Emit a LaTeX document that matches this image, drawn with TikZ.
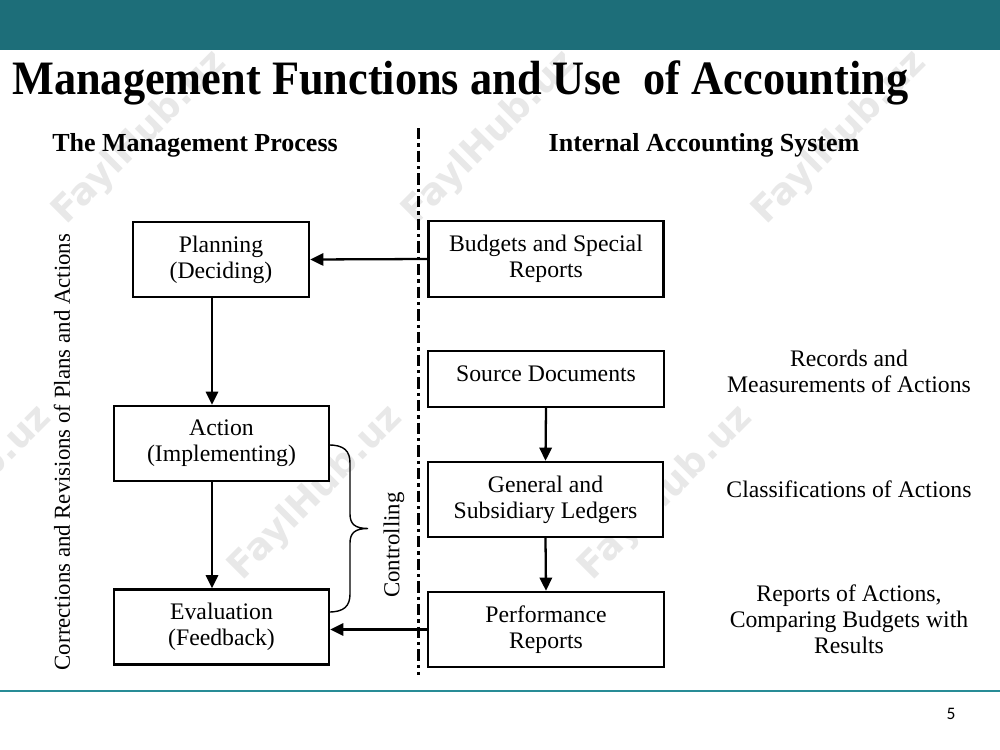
\documentclass[tikz,border=0pt]{standalone}
\usepackage{fontspec}
\setmainfont{Liberation Serif}
\newfontfamily\wmfont{DejaVu Sans}
\newfontfamily\pgfont{Carlito}
\usetikzlibrary{arrows.meta}
\definecolor{barteal}{RGB}{29,110,121}
\definecolor{lineteal}{RGB}{40,140,150}
\definecolor{wmgray}{RGB}{232,232,232}
\tikzset{
  box/.style={draw=black, line width=1.35pt, fill=white, align=center, inner sep=2pt,
    font=\fontsize{13.5}{14.8}\selectfont},
  flow/.style={line width=1.3pt, -{Triangle[length=7.5pt,width=7pt]}},
  side/.style={align=center, font=\fontsize{13.5}{14.8}\selectfont},
  head/.style={font=\fontsize{14.8}{16}\selectfont\bfseries},
  wm/.style={text=wmgray, rotate=45, font=\wmfont\fontsize{21}{21}\selectfont\bfseries},
  bracepath/.style={line width=0.8pt},
  divider/.style={line width=1.7pt, dash pattern=on 6.5pt off 2.3pt on 1.8pt off 2.3pt}
}
\begin{document}
\begin{tikzpicture}[x=0.02cm, y=-0.02cm]
\useasboundingbox (0,0) rectangle (1000,750);
\fill[white] (0,0) rectangle (1000,750);
% header bar
\fill[barteal] (0,0) rectangle (1000,50);
% watermarks
\foreach \wx/\wy in {140/138, 490/138, 840/138, -35/493, 316/493, 666/493}
  \node[wm] at (\wx,\wy) {FaylHub.uz};
% title
\node[anchor=base west, inner sep=0pt, font=\fontsize{26}{28}\selectfont\bfseries] (title) at (12,94)
  {\scalebox{0.97}[1.05]{Management Functions and Use\ \ of Accounting}};
% bottom line and page number
\draw[lineteal, line width=1.2pt] (0,691) -- (1000,691);
\node[font=\pgfont\fontsize{10}{12}\selectfont] (pg) at (951,714) {5};
% headings
\node[head] (h1) at (195,145) {The Management Process};
\node[head] (h2) at (704,145) {Internal Accounting System};
% divider
\coordinate (dtop) at (418,128);
\coordinate (dbot) at (418,675);
\draw[divider] (dtop) -- (dbot);
% left boxes
\node[box, minimum width=3.52cm, minimum height=1.5cm] (plan) at (221,259.5) {Planning\\(Deciding)};
\node[box, minimum width=4.3cm, minimum height=1.5cm] (act) at (221.5,443.5) {Action\\(Implementing)};
\node[box, minimum width=4.3cm, minimum height=1.5cm] (eval) at (221.5,627) {Evaluation\\(Feedback)};
% right boxes
\node[box, minimum width=4.7cm, minimum height=1.52cm] (bud) at (546,259) {Budgets and Special\\Reports};
\node[box, minimum width=4.72cm, minimum height=1.12cm, text depth=6pt] (src) at (546,379) {Source Documents};
\node[box, minimum width=4.7cm, minimum height=1.5cm] (gen) at (545.5,499.5) {General and\\Subsidiary Ledgers};
\node[box, minimum width=4.72cm, minimum height=1.5cm] (perf) at (546,629.5) {Performance\\Reports};
% side descriptions
\node[side] (d1) at (849,371) {Records and\\Measurements of Actions};
\node[side] (d2) at (849,489) {Classifications of Actions};
\node[side] (d3) at (849,619) {Reports of Actions,\\Comparing Budgets with\\Results};
% rotated labels
\node[rotate=90, font=\fontsize{13}{14}\selectfont] (corr) at (62,452) {Corrections and Revisions of Plans and Actions};
\node[rotate=90, font=\fontsize{13}{14}\selectfont] (ctrl) at (394,545) {Controlling};
% arrows
\coordinate (ax) at (212,0);
\draw[flow] (bud.west) -- (plan.east);
\draw[flow] (plan.south -| ax) -- (act.north -| ax);
\draw[flow] (act.south -| ax) -- (eval.north -| ax);
\draw[flow] (perf.west) -- (perf.west -| eval.east);
\draw[flow] (src.south) -- (gen.north);
\draw[flow] (gen.south) -- (perf.north);
% brace
\coordinate (bt) at (329,445);
\coordinate (bb) at (329,612);
\coordinate (btip) at (368,528.5);
\draw[bracepath] (bt) .. controls (344,445) and (350,451) .. (350,463)
  -- (350,514) .. controls (350,524) and (355,528.5) .. (btip)
  .. controls (355,528.5) and (350,533) .. (350,543)
  -- (350,594) .. controls (350,606) and (344,612) .. (bb);
\end{tikzpicture}
\end{document}
